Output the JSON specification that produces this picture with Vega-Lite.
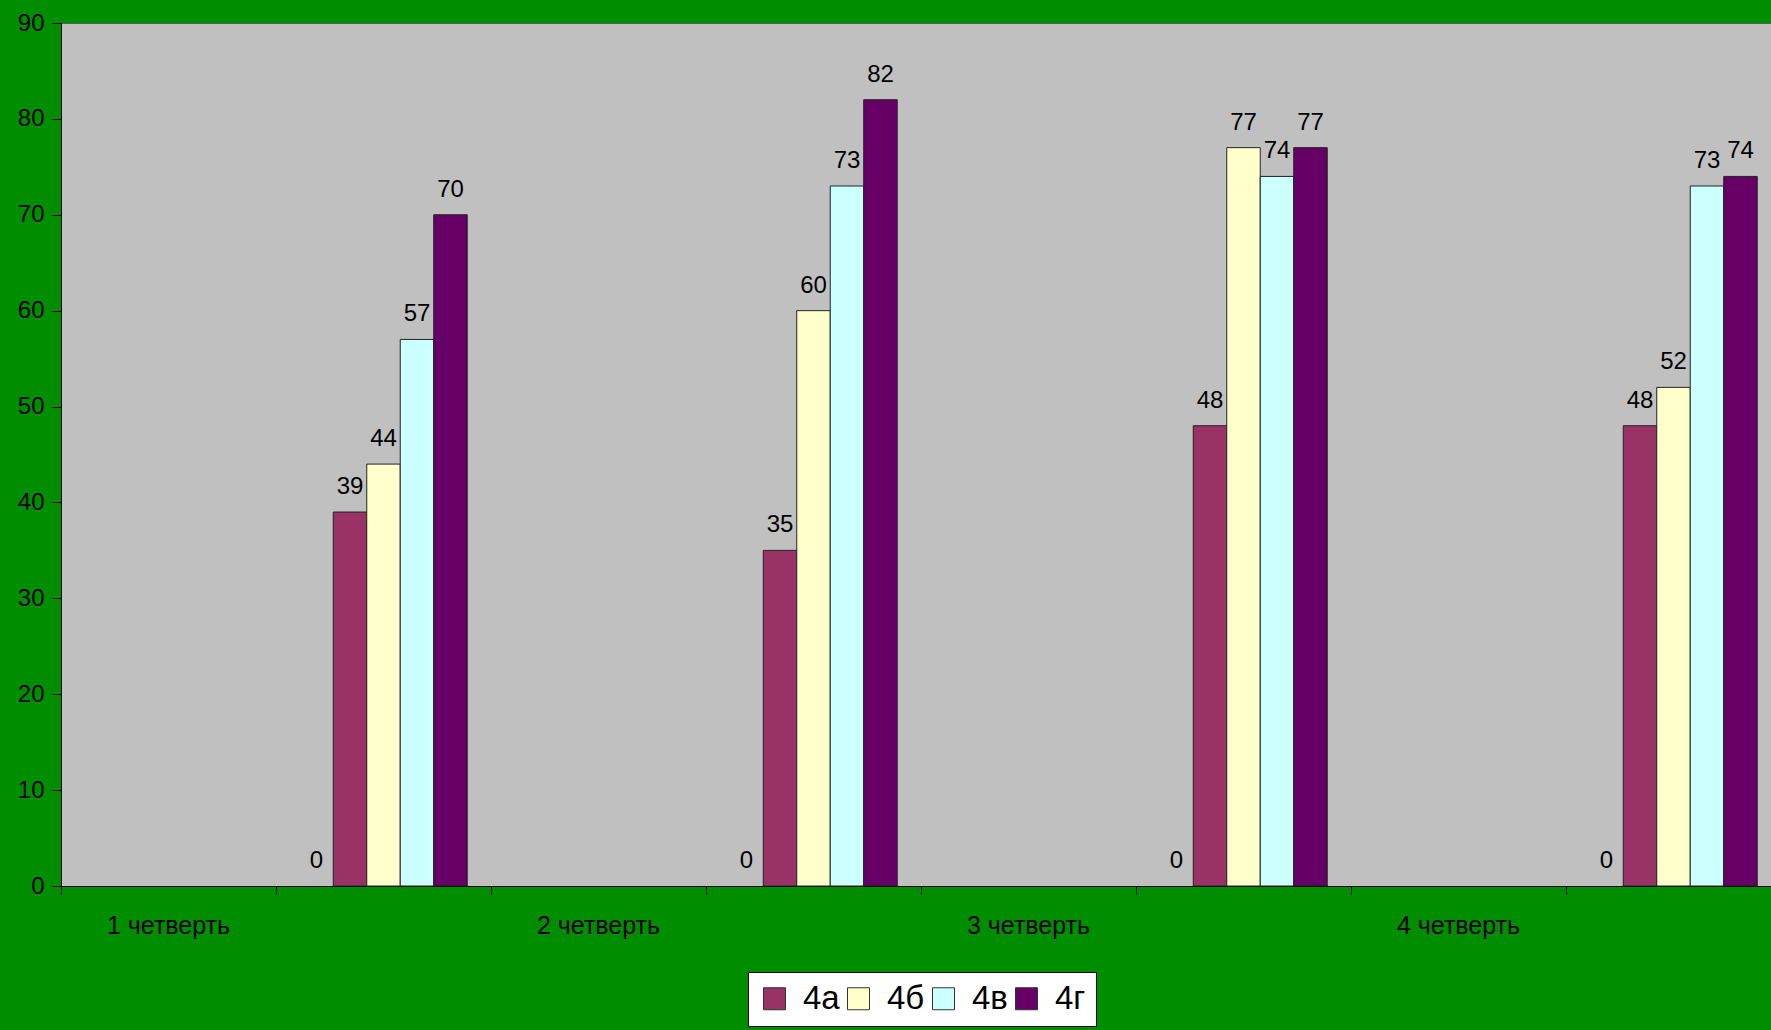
{
  "$schema": "https://vega.github.io/schema/vega-lite/v6.json",
  "width": 1710,
  "height": 863,
  "autosize": {"type": "none"},
  "padding": {"left": 61, "top": 23, "right": 0, "bottom": 144},
  "background": "#008e00",
  "config": {
    "font": "Liberation Sans",
    "view": {"fill": "#c0c0c0", "stroke": "#5a5a5a", "strokeWidth": 1}
  },
  "data": {
    "values": [
      {"pos": " ", "cls": "_", "value": 0},
      {"pos": " ", "cls": "4а", "value": 39},
      {"pos": " ", "cls": "4б", "value": 44},
      {"pos": " ", "cls": "4в", "value": 57},
      {"pos": " ", "cls": "4г", "value": 70},
      {"pos": "  ", "cls": "_", "value": 0},
      {"pos": "  ", "cls": "4а", "value": 35},
      {"pos": "  ", "cls": "4б", "value": 60},
      {"pos": "  ", "cls": "4в", "value": 73},
      {"pos": "  ", "cls": "4г", "value": 82},
      {"pos": "   ", "cls": "_", "value": 0},
      {"pos": "   ", "cls": "4а", "value": 48},
      {"pos": "   ", "cls": "4б", "value": 77},
      {"pos": "   ", "cls": "4в", "value": 74},
      {"pos": "   ", "cls": "4г", "value": 77},
      {"pos": "    ", "cls": "_", "value": 0},
      {"pos": "    ", "cls": "4а", "value": 48},
      {"pos": "    ", "cls": "4б", "value": 52},
      {"pos": "    ", "cls": "4в", "value": 73},
      {"pos": "    ", "cls": "4г", "value": 74}
    ]
  },
  "encoding": {
    "x": {
      "field": "pos",
      "type": "nominal",
      "title": null,
      "scale": {
        "domain": ["1 четверть", " ", "2 четверть", "  ", "3 четверть", "   ", "4 четверть", "    "],
        "paddingInner": 0,
        "paddingOuter": 0,
        "range": [0, 1720]
      },
      "axis": {
        "tickCount": 20,
        "bandPosition": 0,
        "labelAngle": 0,
        "labelFontSize": 25,
        "labelColor": "black",
        "labelPadding": 19,
        "labelOverlap": false,
        "labelBound": false,
        "labelFlush": false,
        "tickSize": 8,
        "tickColor": "black",
        "domainColor": "black",
        "grid": false
      }
    },
    "xOffset": {
      "field": "cls",
      "type": "nominal",
      "scale": {"domain": ["_", "4а", "4б", "4в", "4г"], "paddingInner": 0, "paddingOuter": 0.71}
    },
    "y": {
      "field": "value",
      "type": "quantitative",
      "title": null,
      "scale": {"domain": [0, 90], "nice": false},
      "axis": {
        "values": [0, 10, 20, 30, 40, 50, 60, 70, 80, 90],
        "labelFontSize": 24,
        "labelColor": "black",
        "labelPadding": 8,
        "tickSize": 9,
        "tickColor": "black",
        "domainColor": "black",
        "grid": false
      }
    }
  },
  "layer": [
    {
      "transform": [{"filter": "datum.cls != '_'"}],
      "mark": {"type": "bar", "stroke": "#222222", "strokeWidth": 1},
      "encoding": {
        "color": {
          "field": "cls",
          "type": "nominal",
          "scale": {
            "domain": ["4а", "4б", "4в", "4г"],
            "range": ["#993366", "#ffffcc", "#ccffff", "#660066"]
          },
          "legend": {
            "title": null,
            "orient": "none",
            "legendX": 687,
            "legendY": 949,
            "direction": "horizontal",
            "fillColor": "white",
            "strokeColor": "black",
            "padding": 10,
            "symbolType": "square",
            "symbolSize": 484,
            "symbolStrokeColor": "#333333",
            "symbolStrokeWidth": 1,
            "symbolOpacity": 1,
            "labelFontSize": 33,
            "labelColor": "black",
            "labelOffset": 12,
            "columnPadding": 2
          }
        }
      }
    },
    {
      "mark": {"type": "text", "baseline": "alphabetic", "dy": -18, "fontSize": 24, "color": "black"},
      "encoding": {"text": {"field": "value", "type": "quantitative"}}
    }
  ]
}
